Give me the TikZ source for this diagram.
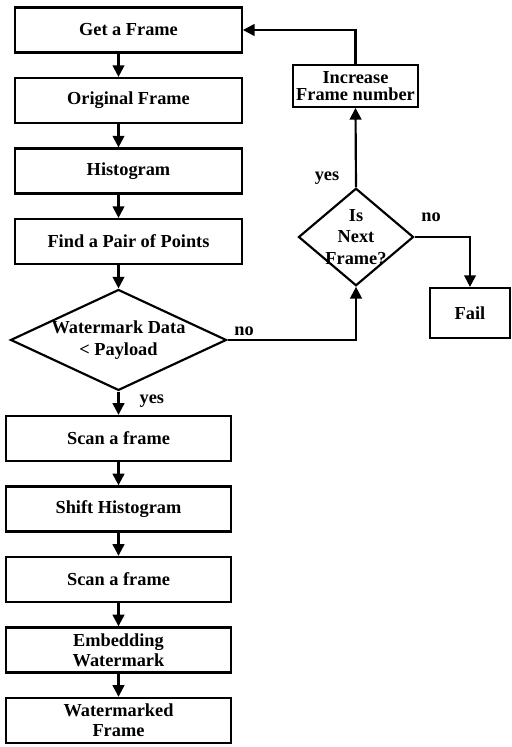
\documentclass[tikz,border=0pt]{standalone}
\usepackage{fontspec}
\setmainfont{Liberation Serif}
\usepackage{tikz}
\usetikzlibrary{arrows.meta,positioning,shapes.geometric}
\tikzset{
  box/.style   = {draw, line width=1.3pt, minimum width=136pt, minimum height=27pt,
                  align=center, inner sep=1.2pt, font=\fontsize{11}{12}\selectfont\bfseries},
  lowbox/.style= {box, minimum width=135pt},
  dec/.style   = {draw, diamond, line width=1.3pt, align=center, inner sep=0pt,
                  font=\fontsize{11}{13}\selectfont\bfseries},
  arr/.style   = {-{Triangle[length=7pt,width=7pt]}, line width=1.3pt},
  lab/.style   = {font=\fontsize{11}{13}\selectfont\bfseries, inner sep=1pt},
}
\begin{document}
\begin{tikzpicture}[x=0.6pt,y=-0.6pt,node distance=14pt]
\useasboundingbox (0,0) rectangle (511,747);

% ---- main column ----
\node[box] (get) at (128.5,30) {Get a Frame};
\node[box, below=of get] (orig) {Original Frame};
\node[box, below=of orig] (hist) {Histogram};
\node[box, below=of hist] (pair) {Find a Pair of Points};
\node[dec, aspect=2.14, below=of pair, xshift=-6pt] (wm) {Watermark Data\\{<} Payload};
\node[lowbox, below=of wm] (scan1) {Scan a frame};
\node[lowbox, below=of scan1] (shift) {Shift Histogram};
\node[lowbox, below=of shift] (scan2) {Scan a frame};
\node[lowbox, below=of scan2] (emb) {Embedding\\Watermark};
\node[lowbox, below=of emb] (wmf) {Watermarked\\Frame};

\draw[arr] (get.south -| wm)  -- (orig.north -| wm);
\draw[arr] (orig.south -| wm) -- (hist.north -| wm);
\draw[arr] (hist.south -| wm) -- (pair.north -| wm);
\draw[arr] (pair.south -| wm) -- (wm.north);
\draw[arr] (wm.south) -- node[lab, right=11pt, pos=0.4]{yes} (scan1.north -| wm);
\draw[arr] (scan1.south -| wm) -- (shift.north -| wm);
\draw[arr] (shift.south -| wm) -- (scan2.north -| wm);
\draw[arr] (scan2.south -| wm) -- (emb.north -| wm);
\draw[arr] (emb.south -| wm) -- (wmf.north -| wm);

% ---- next frame loop ----
\node[dec, aspect=1.18, inner sep=-1.6pt] (next) at (356,237) {Is\\Next\\Frame?};
\node[box, minimum width=75pt, minimum height=25pt] (inc) at (355.5,86)
      {Increase\\[-2pt]Frame number};
\node[box, minimum width=48pt, minimum height=30pt] (fail) at (470,313) {Fail};

\draw[arr] (wm.east) -| (next.south);
\node[lab] (no1) at (244,331) {no};
\draw[arr] (next.north) -- (inc.south);
\node[lab] (yes2) at (327,178) {yes};
\draw[arr] (inc.north) |- (get.east);
\draw[arr] (next.east) -| (fail.north);
\node[lab] (no2) at (431,217) {no};

\end{tikzpicture}
\end{document}
